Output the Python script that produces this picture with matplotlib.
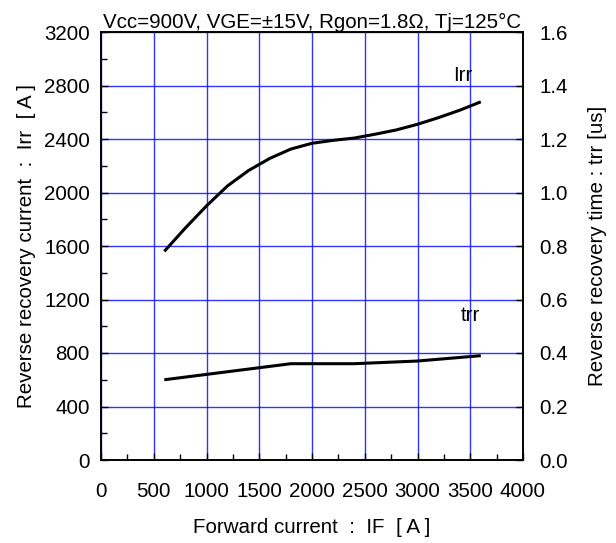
import matplotlib
matplotlib.use("Agg")
import matplotlib.pyplot as plt
from matplotlib.ticker import MultipleLocator

plt.rcParams['font.family'] = ['Liberation Sans', 'DejaVu Sans']

# Data
if_irr = [600, 800, 1000, 1200, 1400, 1600, 1800, 2000, 2200, 2400, 2600, 2800, 3000, 3200, 3400, 3600]
irr = [1560, 1735, 1900, 2050, 2165, 2255, 2325, 2368, 2390, 2407, 2436, 2468, 2510, 2560, 2615, 2678]

if_trr = [600, 1800, 2400, 3000, 3600]
trr = [0.30, 0.36, 0.36, 0.37, 0.39]

x_ticks = [0, 500, 1000, 1500, 2000, 2500, 3000, 3500, 4000]
y_left_ticks = [0, 400, 800, 1200, 1600, 2000, 2400, 2800, 3200]
y_right_ticks = [0.0, 0.2, 0.4, 0.6, 0.8, 1.0, 1.2, 1.4, 1.6]

FS = 14.8

fig = plt.figure(figsize=(6.16, 5.43), dpi=100)
ax = fig.add_axes([101/616, 83/543, 422/616, 428/543])
ax2 = ax.twinx()

ax.set_xlim(0, 4000)
ax.set_ylim(0, 3200)
ax2.set_ylim(0, 1.6)

ax.set_xticks(x_ticks)
ax.set_yticks(y_left_ticks)
ax2.set_yticks(y_right_ticks)
ax2.set_yticklabels([f"{v:.1f}" for v in y_right_ticks])
ax.xaxis.set_minor_locator(MultipleLocator(250))
ax.yaxis.set_minor_locator(MultipleLocator(200))

ax.grid(True, which='major', color='#0000FF', linewidth=1.0, alpha=0.8)
ax.set_axisbelow(True)

ax.tick_params(axis='y', which='major', direction='in', length=5, width=1, labelsize=FS, pad=8)
ax.tick_params(axis='x', which='major', direction='in', length=5, width=1, labelsize=FS, pad=16)
ax.tick_params(axis='both', which='minor', direction='in', length=4, width=1)
ax.tick_params(axis='x', which='both', top=False)
ax2.tick_params(axis='y', which='major', direction='in', length=5, width=1, labelsize=FS, pad=12)

for a in (ax, ax2):
    for s in a.spines.values():
        s.set_linewidth(1.2)
        s.set_color('black')

ax.plot(if_irr, irr, color='black', linewidth=2.2, solid_capstyle='butt', solid_joinstyle='round')
ax2.plot(if_trr, trr, color='black', linewidth=2.2, solid_capstyle='butt')

ax.text(3430, 2830, 'Irr', fontsize=FS, ha='center', va='baseline')
ax.text(3500, 1040, 'trr', fontsize=FS, ha='center', va='baseline')

ax.set_title('Vcc=900V, VGE=±15V, Rgon=1.8Ω, Tj=125°C', fontsize=FS, pad=3)
ax.set_xlabel('Forward current  :  IF  [ A ]', fontsize=FS, labelpad=12)
ax.set_ylabel('Reverse recovery current  :  Irr  [ A ]', fontsize=FS, labelpad=6)
ax2.set_ylabel('Reverse recovery time : trr [us]', fontsize=FS, labelpad=14)

fig.savefig('out.png', dpi=100)
